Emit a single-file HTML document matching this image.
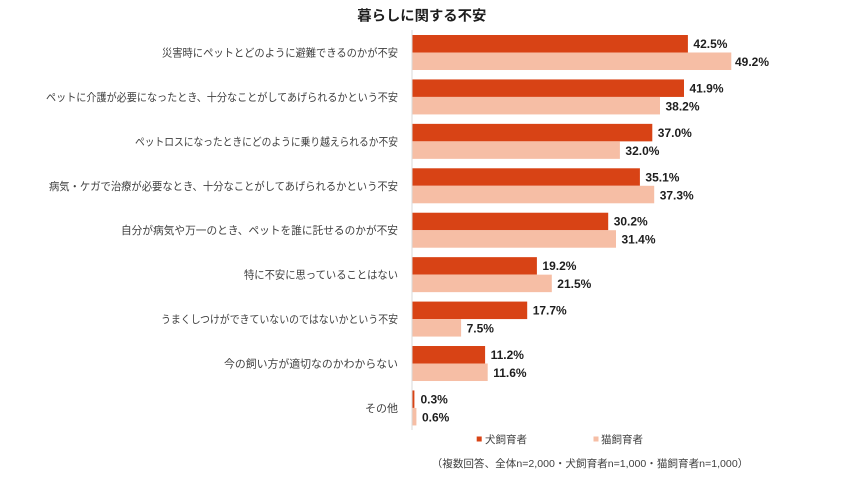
<!DOCTYPE html>
<html>
<head>
<meta charset="utf-8">
<style>
  html, body { margin: 0; padding: 0; background: #ffffff; }
  svg { display: block; }
  .cat { font-family: "Liberation Sans", "Noto Sans CJK JP", sans-serif; font-size: 11px; fill: #404040; }
  .val { font-family: "Liberation Sans", sans-serif; font-size: 12px; font-weight: bold; fill: #1e1e1e; }
  .ttl { font-family: "Liberation Sans", "Noto Sans CJK JP", sans-serif; font-size: 14px; font-weight: bold; fill: #1e1e1e; }
  .leg { font-family: "Liberation Sans", "Noto Sans CJK JP", sans-serif; font-size: 10.5px; fill: #404040; }
</style>
</head>
<body>
<svg width="862" height="498" viewBox="0 0 862 498" xmlns="http://www.w3.org/2000/svg">
  <rect x="0" y="0" width="862" height="498" fill="#ffffff"/>

  <!-- Title -->
  <text class="ttl" x="357.3" y="20.5" textLength="129" lengthAdjust="spacingAndGlyphs">暮らしに関する不安</text>

  <!-- axis line -->
  <line x1="412" y1="30" x2="412" y2="430" stroke="#d9d9d9" stroke-width="1"/>

  <!-- Group 1 -->
  <text class="cat" x="398" y="56.5" text-anchor="end" textLength="236" lengthAdjust="spacingAndGlyphs">災害時にペットとどのように避難できるのかが不安</text>
  <rect x="412.5" y="35" width="275.4" height="17.5" fill="#D84315"/>
  <rect x="412.5" y="52.5" width="318.8" height="17.5" fill="#F6BEA5"/>
  <text class="val" x="693.4" y="48">42.5%</text>
  <text class="val" x="735" y="66">49.2%</text>

  <!-- Group 2 -->
  <text class="cat" x="398" y="100.9" text-anchor="end" textLength="352" lengthAdjust="spacingAndGlyphs">ペットに介護が必要になったとき、十分なことがしてあげられるかという不安</text>
  <rect x="412.5" y="79.43" width="271.5" height="17.5" fill="#D84315"/>
  <rect x="412.5" y="96.93" width="247.5" height="17.5" fill="#F6BEA5"/>
  <text class="val" x="689.5" y="92.4">41.9%</text>
  <text class="val" x="665.5" y="110.4">38.2%</text>

  <!-- Group 3 -->
  <text class="cat" x="398" y="145.4" text-anchor="end" textLength="263" lengthAdjust="spacingAndGlyphs">ペットロスになったときにどのように乗り越えられるか不安</text>
  <rect x="412.5" y="123.86" width="239.8" height="17.5" fill="#D84315"/>
  <rect x="412.5" y="141.36" width="207.4" height="17.5" fill="#F6BEA5"/>
  <text class="val" x="657.8" y="136.9">37.0%</text>
  <text class="val" x="625.4" y="154.9">32.0%</text>

  <!-- Group 4 -->
  <text class="cat" x="398" y="189.8" text-anchor="end" textLength="349" lengthAdjust="spacingAndGlyphs">病気・ケガで治療が必要なとき、十分なことがしてあげられるかという不安</text>
  <rect x="412.5" y="168.29" width="227.4" height="17.5" fill="#D84315"/>
  <rect x="412.5" y="185.79" width="241.7" height="17.5" fill="#F6BEA5"/>
  <text class="val" x="645.4" y="181.3">35.1%</text>
  <text class="val" x="659.7" y="199.3">37.3%</text>

  <!-- Group 5 -->
  <text class="cat" x="398" y="234.2" text-anchor="end" textLength="277" lengthAdjust="spacingAndGlyphs">自分が病気や万一のとき、ペットを誰に託せるのかが不安</text>
  <rect x="412.5" y="212.72" width="195.7" height="17.5" fill="#D84315"/>
  <rect x="412.5" y="230.22" width="203.5" height="17.5" fill="#F6BEA5"/>
  <text class="val" x="613.7" y="225.7">30.2%</text>
  <text class="val" x="621.5" y="243.7">31.4%</text>

  <!-- Group 6 -->
  <text class="cat" x="398" y="278.6" text-anchor="end" textLength="154" lengthAdjust="spacingAndGlyphs">特に不安に思っていることはない</text>
  <rect x="412.5" y="257.15" width="124.4" height="17.5" fill="#D84315"/>
  <rect x="412.5" y="274.65" width="139.3" height="17.5" fill="#F6BEA5"/>
  <text class="val" x="542.4" y="270.2">19.2%</text>
  <text class="val" x="557.3" y="288.2">21.5%</text>

  <!-- Group 7 -->
  <text class="cat" x="398" y="323.1" text-anchor="end" textLength="237" lengthAdjust="spacingAndGlyphs">うまくしつけができていないのではないかという不安</text>
  <rect x="412.5" y="301.58" width="114.7" height="17.5" fill="#D84315"/>
  <rect x="412.5" y="319.08" width="48.6" height="17.5" fill="#F6BEA5"/>
  <text class="val" x="532.7" y="314.6">17.7%</text>
  <text class="val" x="466.6" y="332.6">7.5%</text>

  <!-- Group 8 -->
  <text class="cat" x="398" y="367.5" text-anchor="end" textLength="174" lengthAdjust="spacingAndGlyphs">今の飼い方が適切なのかわからない</text>
  <rect x="412.5" y="346.01" width="72.6" height="17.5" fill="#D84315"/>
  <rect x="412.5" y="363.51" width="75.2" height="17.5" fill="#F6BEA5"/>
  <text class="val" x="490.6" y="359">11.2%</text>
  <text class="val" x="493.2" y="377">11.6%</text>

  <!-- Group 9 -->
  <text class="cat" x="398" y="411.9" text-anchor="end">その他</text>
  <rect x="412.5" y="390.44" width="1.9" height="17.5" fill="#D84315"/>
  <rect x="412.5" y="407.94" width="3.9" height="17.5" fill="#F6BEA5"/>
  <text class="val" x="420.5" y="403.4">0.3%</text>
  <text class="val" x="422" y="421.4">0.6%</text>

  <!-- Legend -->
  <rect x="476.7" y="436.5" width="5" height="5" fill="#D84315"/>
  <text class="leg" x="485" y="443" textLength="42" lengthAdjust="spacingAndGlyphs">犬飼育者</text>
  <rect x="593.5" y="436.5" width="5" height="5" fill="#F6BEA5"/>
  <text class="leg" x="601" y="443" textLength="42" lengthAdjust="spacingAndGlyphs">猫飼育者</text>

  <!-- Footnote -->
  <text class="leg" x="431.7" y="467" textLength="316.6" lengthAdjust="spacingAndGlyphs">（複数回答、全体n=2,000・犬飼育者n=1,000・猫飼育者n=1,000）</text>
</svg>
</body>
</html>
